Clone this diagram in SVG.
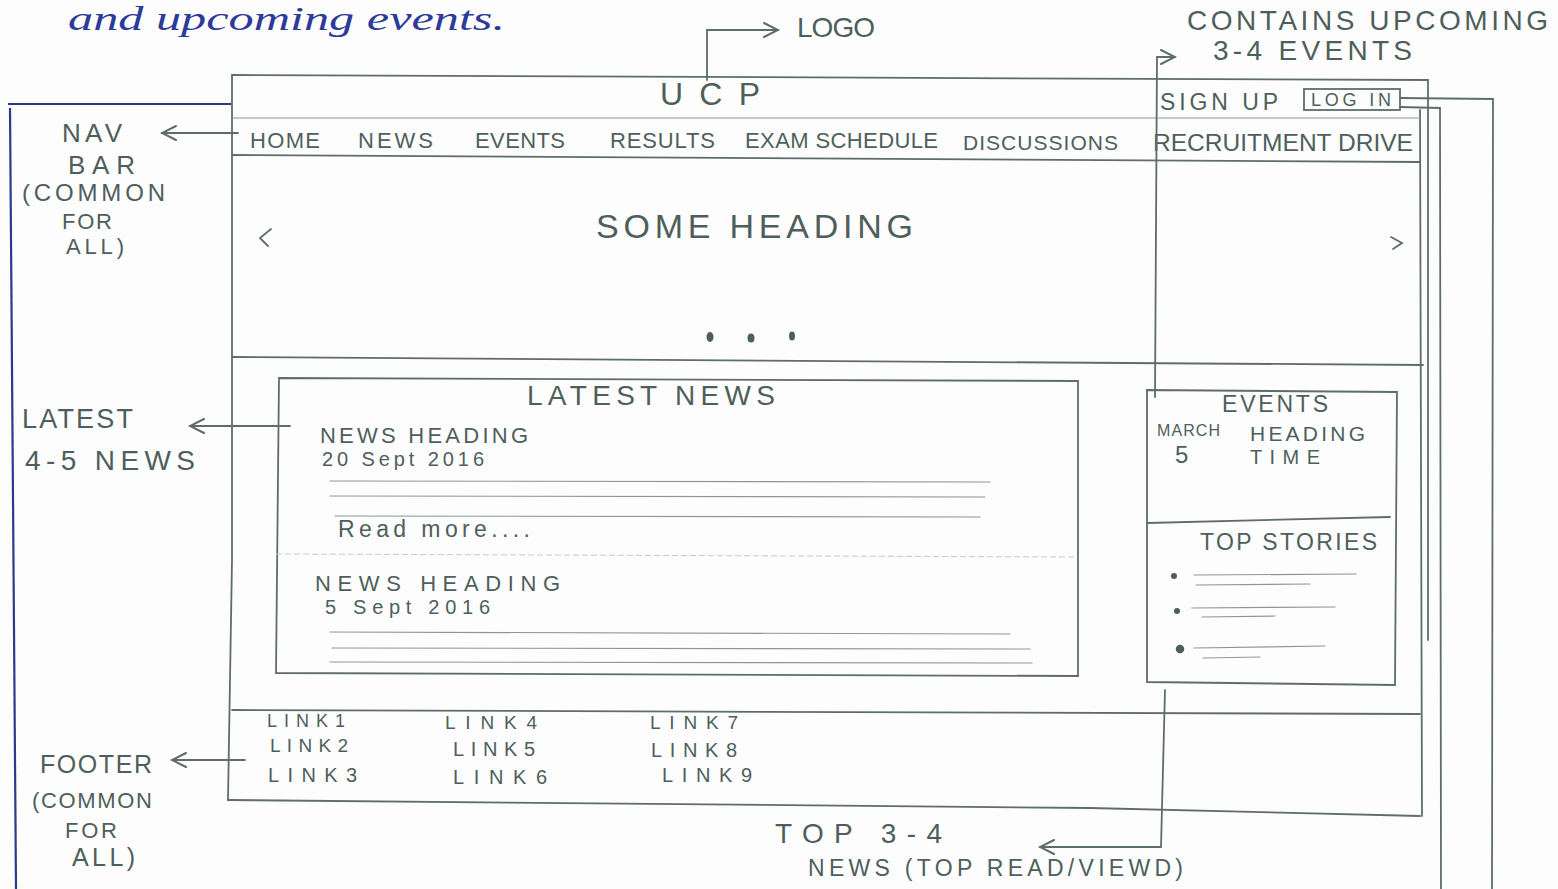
<svg xmlns="http://www.w3.org/2000/svg" width="1558" height="889" viewBox="0 0 1558 889">
<style>
.bg{fill:#fdfdfd}
.ln{fill:none;stroke:#5d6e6a;stroke-width:1.8;stroke-linecap:round}
.lt{fill:none;stroke:#8a9894;stroke-width:1.2;stroke-linecap:round}
.fl{fill:none;stroke:#c4ccca;stroke-width:1;stroke-dasharray:6 3}
.bl{fill:none;stroke:#2c3a8e;stroke-width:2.2}
.t{font-family:"Liberation Sans",Arial,sans-serif;fill:#4e5f5b}
.nv{font-size:22px}
.blue{font-family:"Liberation Serif",serif;font-style:italic;fill:#2c3a9a;font-size:34px}
.dot{fill:#4e5f5b}
</style>
<defs>
<marker id="ah" viewBox="0 0 20 20" refX="18" refY="10" markerWidth="20" markerHeight="20" markerUnits="userSpaceOnUse" orient="auto">
<path d="M4 3 L18 10 L4 17" fill="none" stroke="#5d6e6a" stroke-width="2" stroke-linecap="round"/>
</marker>
</defs>
<rect class="bg" x="0" y="0" width="1558" height="889"/>

<g id="header-note">
<text class="blue" x="68" y="30" textLength="437" lengthAdjust="spacingAndGlyphs">and upcoming events.</text>
</g>

<g id="blue-frame">
<path class="bl" d="M8 104 L232 104"/>
<path class="bl" d="M10 108 L16 889"/>
</g>

<g id="page">
<path class="ln" d="M232 75 L1428 80 L1428 640"/>
<path class="ln" d="M232 75 L232 560 L228 800"/>
<path class="ln" d="M1420 110 L1422 816"/>
<path class="lt" d="M232 118 L1420 118"/>
<path class="ln" d="M232 155 L1420 162"/>
<path class="ln" d="M232 357 L1423 365"/>
<path class="ln" d="M232 710 L1420 714"/>
<path class="ln" d="M228 800 L1090 808 L1420 816"/>
</g>

<g id="logo">
<text class="t" x="660" y="105" font-size="32" textLength="100" lengthAdjust="spacing">UCP</text>
<text class="t" x="797" y="37" font-size="28" textLength="78" lengthAdjust="spacing">LOGO</text>
</g>

<g id="auth">
<text class="t" x="1160" y="110" font-size="23" textLength="118" lengthAdjust="spacing">SIGN UP</text>
<rect class="ln" x="1304" y="89" width="96" height="21"/>
<text class="t" x="1311" y="106" font-size="18" textLength="80" lengthAdjust="spacing">LOG IN</text>
</g>

<g id="events-note">
<text class="t" x="1187" y="30" font-size="28" textLength="361" lengthAdjust="spacing">CONTAINS UPCOMING</text>
<text class="t" x="1213" y="60" font-size="28" textLength="199" lengthAdjust="spacing">3-4 EVENTS</text>
</g>

<g id="navbar">
<text class="t nv" x="250" y="148" textLength="70" lengthAdjust="spacing">HOME</text>
<text class="t nv" x="358" y="148" textLength="75" lengthAdjust="spacing">NEWS</text>
<text class="t nv" x="475" y="148" textLength="90" lengthAdjust="spacing">EVENTS</text>
<text class="t nv" x="610" y="148" textLength="105" lengthAdjust="spacing">RESULTS</text>
<text class="t nv" x="745" y="148" textLength="193" lengthAdjust="spacing">EXAM SCHEDULE</text>
<text class="t" x="963" y="150" font-size="21" textLength="155" lengthAdjust="spacing">DISCUSSIONS</text>
<text class="t" x="1153" y="151" font-size="24" textLength="260" lengthAdjust="spacingAndGlyphs">RECRUITMENT DRIVE</text>
</g>

<g id="nav-note">
<text class="t" x="62" y="142" font-size="26" textLength="60" lengthAdjust="spacing">NAV</text>
<text class="t" x="68" y="174" font-size="26" textLength="67" lengthAdjust="spacing">BAR</text>
<text class="t" x="22" y="201" font-size="24" textLength="143" lengthAdjust="spacing">(COMMON</text>
<text class="t" x="62" y="229" font-size="22" textLength="50" lengthAdjust="spacing">FOR</text>
<text class="t" x="66" y="254" font-size="22" textLength="58" lengthAdjust="spacing">ALL)</text>
</g>

<g id="slider">
<path class="ln" d="M271 229 L260 238 L268 246"/>
<text class="t" x="596" y="238" font-size="34" textLength="317" lengthAdjust="spacing">SOME HEADING</text>
<path class="ln" d="M1391 237 L1402 243 L1393 249"/>
<ellipse class="dot" cx="710" cy="337" rx="3.5" ry="5"/>
<ellipse class="dot" cx="751" cy="338" rx="3.5" ry="4.5"/>
<ellipse class="dot" cx="792" cy="336" rx="3" ry="4.5"/>
</g>

<g id="latest-news">
<path class="ln" d="M279 378 L1078 381 L1078 676 L276 673 Z"/>
<text class="t" x="527" y="405" font-size="28" textLength="248" lengthAdjust="spacing">LATEST NEWS</text>
<text class="t" x="320" y="443" font-size="22" textLength="208" lengthAdjust="spacing">NEWS HEADING</text>
<text class="t" x="322" y="466" font-size="20" textLength="162" lengthAdjust="spacing">20 Sept 2016</text>
<path class="lt" d="M330 481 L990 482 M330 496 L985 497 M335 516 L980 517"/>
<text class="t" x="338" y="537" font-size="23" textLength="192" lengthAdjust="spacing">Read more....</text>
<path class="fl" d="M276 554 L1076 557"/>
<text class="t" x="315" y="591" font-size="22" textLength="245" lengthAdjust="spacing">NEWS HEADING</text>
<text class="t" x="325" y="614" font-size="20" textLength="165" lengthAdjust="spacing">5 Sept 2016</text>
<path class="lt" d="M330 632 L1010 634 M332 648 L1030 649 M330 662 L1032 663"/>
</g>

<g id="latest-note">
<text class="t" x="22" y="428" font-size="27" textLength="111" lengthAdjust="spacing">LATEST</text>
<text class="t" x="25" y="470" font-size="28" textLength="170" lengthAdjust="spacing">4-5 NEWS</text>
</g>

<g id="events-box">
<path class="ln" d="M1147 390 L1397 392 L1395 685 L1147 682 Z"/>
<text class="t" x="1222" y="412" font-size="23" textLength="106" lengthAdjust="spacing">EVENTS</text>
<text class="t" x="1157" y="436" font-size="16" textLength="63" lengthAdjust="spacing">MARCH</text>
<text class="t" x="1250" y="441" font-size="21" textLength="115" lengthAdjust="spacing">HEADING</text>
<text class="t" x="1175" y="463" font-size="24">5</text>
<text class="t" x="1250" y="464" font-size="20" textLength="70" lengthAdjust="spacing">TIME</text>
<path class="ln" d="M1147 523 L1390 517"/>
<text class="t" x="1200" y="550" font-size="23" textLength="177" lengthAdjust="spacing">TOP STORIES</text>
<circle class="dot" cx="1174" cy="576" r="3"/>
<path class="lt" d="M1194 575 L1356 574 M1196 585 L1310 584"/>
<circle class="dot" cx="1177" cy="611" r="3"/>
<path class="lt" d="M1192 608 L1335 607 M1202 617 L1275 616"/>
<circle class="dot" cx="1180" cy="649" r="3.5" fill="none" stroke="#4e5f5b" stroke-width="1.5"/>
<path class="lt" d="M1194 648 L1325 646 M1203 658 L1260 657"/>
</g>

<g id="footer">
<text class="t" x="267" y="727" font-size="18" textLength="78" lengthAdjust="spacing">LINK1</text>
<text class="t" x="270" y="752" font-size="19" textLength="78" lengthAdjust="spacing">LINK2</text>
<text class="t" x="268" y="782" font-size="20" textLength="89" lengthAdjust="spacing">LINK3</text>
<text class="t" x="445" y="729" font-size="19" textLength="92" lengthAdjust="spacing">LINK4</text>
<text class="t" x="453" y="756" font-size="20" textLength="82" lengthAdjust="spacing">LINK5</text>
<text class="t" x="453" y="784" font-size="20" textLength="94" lengthAdjust="spacing">LINK6</text>
<text class="t" x="650" y="729" font-size="19" textLength="88" lengthAdjust="spacing">LINK7</text>
<text class="t" x="651" y="757" font-size="20" textLength="86" lengthAdjust="spacing">LINK8</text>
<text class="t" x="662" y="782" font-size="20" textLength="90" lengthAdjust="spacing">LINK9</text>
</g>

<g id="footer-note">
<text class="t" x="40" y="773" font-size="25" textLength="112" lengthAdjust="spacing">FOOTER</text>
<text class="t" x="32" y="808" font-size="22" textLength="120" lengthAdjust="spacing">(COMMON</text>
<text class="t" x="65" y="838" font-size="22" textLength="52" lengthAdjust="spacing">FOR</text>
<text class="t" x="72" y="866" font-size="25" textLength="63" lengthAdjust="spacing">ALL)</text>
</g>

<g id="top-news-note">
<text class="t" x="775" y="843" font-size="28" textLength="167" lengthAdjust="spacing">TOP 3-4</text>
<text class="t" x="808" y="876" font-size="23" textLength="375" lengthAdjust="spacing">NEWS (TOP READ/VIEWD)</text>
</g>

<g id="connectors">
<path class="ln" d="M707 80 L707 30 L778 30" marker-end="url(#ah)"/>
<path class="ln" d="M1155 397 L1157 57 L1175 57" marker-end="url(#ah)"/>
<path class="ln" d="M238 133 L162 133" marker-end="url(#ah)"/>
<path class="ln" d="M290 426 L190 426" marker-end="url(#ah)"/>
<path class="ln" d="M245 760 L172 760" marker-end="url(#ah)"/>
<path class="ln" d="M1165 690 L1161 847 L1040 847" marker-end="url(#ah)"/>
<path class="ln" d="M1400 98 L1493 99 L1492 889"/>
<path class="ln" d="M1400 107 L1440 108 L1441 889"/>
</g>
</svg>
